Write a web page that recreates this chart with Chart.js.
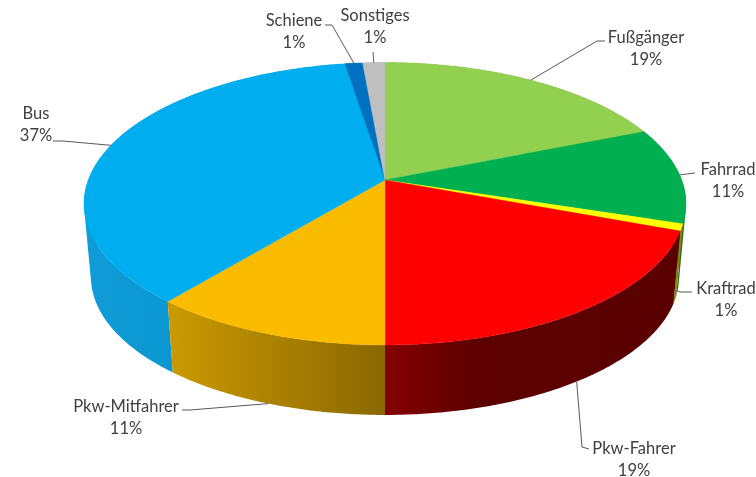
<!DOCTYPE html>
<html><head><meta charset="utf-8">
<style>html,body{margin:0;padding:0;background:#fff}canvas{display:block;filter:blur(0.35px)}</style>
<script src="https://cdn.jsdelivr.net/npm/chart.js@4"></script>
</head><body><canvas id="c" width="756" height="477"></canvas>
<script>
const categories = ["Fußgänger","Fahrrad","Kraftrad","Pkw-Fahrer","Pkw-Mitfahrer","Bus","Schiene","Sonstiges"];
const shares = [18.9,11.0,0.8,19.3,11.0,36.5,1.1,1.4];
const shareLabels = ["19%","11%","1%","19%","11%","37%","1%","1%"];
const topColors = ["#92D050","#00B050","#FFFF00","#FF0000","#FBBC00","#00AEEF","#0070C0","#BFBFBF"];
const sideStops = [
  ["#6f9e3c","#6f9e3c"],["#2f6b2a","#2f6b2a"],["#8a8a00","#8a8a00"],
  null,
  ["#cb9a00","#8a6800"],["#109cd8","#008cc4"],["#005a9a","#005a9a"],["#999","#999"]
];
const wallOrder = [7,6,0,5,1,2,4,3];
// label layout: centre x, first line y, then leader bend points
const labelLayout = [
  {x:646,y:38,side:"top",bends:[[597,41],[605,41]]},
  {x:728,y:170,side:"top",bends:[[695,173]]},
  {x:726,y:289,side:"bottom",bends:[[680,292],[692,292]],start:[675,290]},
  {x:634,y:449,side:"bottom",bends:[[582,447],[589,449]]},
  {x:126,y:407,side:"bottom",bends:[[190,410],[182,410]]},
  {x:36,y:114,side:"top",bends:[[63,141],[53,141]]},
  {x:294,y:21,side:"top",bends:[[332,25],[325,25]]},
  {x:375,y:16,side:"top",bends:[[373,52]]}
];
// perspective view of the disc
const view = {cx:385, apexY:180, A:296.7, B:107, k:0.168, shrink:0.977};
function topRim(theta){
  const u=Math.sin(theta), v=-Math.cos(theta), w=1-view.k*v;
  return [view.cx+view.A*u/w, (view.B*v+view.apexY)/w];
}
function lowRim(theta){
  const [x,y]=topRim(theta);
  return [view.cx+(x-view.cx)*view.shrink, y+77.9-0.023*y];
}
function sweep(a,b,fn){
  const n=Math.max(2,Math.ceil((b-a)/0.01)), pts=[];
  for(let i=0;i<=n;i++) pts.push(fn(a+(b-a)*i/n));
  return pts;
}
function wallFill(ctx,i,up,lo){
  if(i===3){
    const g=ctx.createLinearGradient(385,0,680,0);
    g.addColorStop(0,"#860000");g.addColorStop(0.3,"#5e0000");g.addColorStop(1,"#5a0000");
    return g;
  }
  const xs=up.concat(lo).map(p=>p[0]);
  const g=ctx.createLinearGradient(Math.min(...xs),0,Math.max(...xs),0);
  g.addColorStop(0,sideStops[i][0]);g.addColorStop(1,sideStops[i][1]);
  return g;
}
function addQuad(ctx,q){
  let area=0;
  for(let i=0;i<4;i++){const p=q[i],r=q[(i+1)%4];area+=p[0]*r[1]-r[0]*p[1];}
  if(area<0) q=q.slice().reverse();
  q.forEach((p,i)=>i?ctx.lineTo(p[0],p[1]):ctx.moveTo(p[0],p[1]));
  ctx.closePath();
}
const pie3d = {
  id:"pie3d",
  beforeDatasetsDraw(chart){
    const ctx=chart.ctx, arcs=chart.getDatasetMeta(0).data;
    ctx.save();
    ctx.lineJoin="round";
    // walls: same-wound quads in one path, so folds at the silhouette stay filled
    wallOrder.forEach(i=>{
      const arc=arcs[i], a=arc.startAngle+Math.PI/2, b=arc.endAngle+Math.PI/2;
      const up=sweep(a,b,topRim), lo=sweep(a,b,lowRim);
      ctx.fillStyle=wallFill(ctx,i,up,lo);
      ctx.beginPath();
      for(let j=0;j<up.length-1;j++) addQuad(ctx,[up[j],up[j+1],lo[j+1],lo[j]]);
      ctx.fill();
    });
    // top faces
    arcs.forEach((arc,i)=>{
      const a=arc.startAngle+Math.PI/2, b=arc.endAngle+Math.PI/2;
      ctx.beginPath();
      ctx.moveTo(view.cx,view.apexY);
      sweep(a,b,topRim).forEach(p=>ctx.lineTo(p[0],p[1]));
      ctx.closePath();
      ctx.fillStyle=topColors[i];ctx.fill();
      ctx.strokeStyle=topColors[i];ctx.lineWidth=0.4;ctx.stroke();
    });
    // leaders and labels
    ctx.textAlign="center";ctx.textBaseline="middle";
    ctx.font="16.5px Lato, 'Open Sans', sans-serif";
    arcs.forEach((arc,i)=>{
      const mid=(arc.startAngle+arc.endAngle)/2+Math.PI/2, l=labelLayout[i];
      const s=l.start||(l.side==="bottom"?lowRim(mid):topRim(mid));
      ctx.beginPath();ctx.moveTo(s[0],s[1]);
      l.bends.forEach(p=>ctx.lineTo(p[0],p[1]));
      ctx.strokeStyle="#595959";ctx.lineWidth=1;ctx.stroke();
      ctx.fillStyle="#404040";
      ctx.fillText(categories[i],l.x,l.y);
      ctx.fillText(shareLabels[i],l.x,l.y+21.5);
    });
    ctx.restore();
    return false;
  }
};
new Chart(document.getElementById("c"),{
  type:"pie",
  data:{labels:categories,datasets:[{data:shares,backgroundColor:topColors,borderWidth:0}]},
  options:{responsive:false,animation:false,plugins:{legend:{display:false},tooltip:{enabled:false}}},
  plugins:[pie3d]
});
</script></body></html>
